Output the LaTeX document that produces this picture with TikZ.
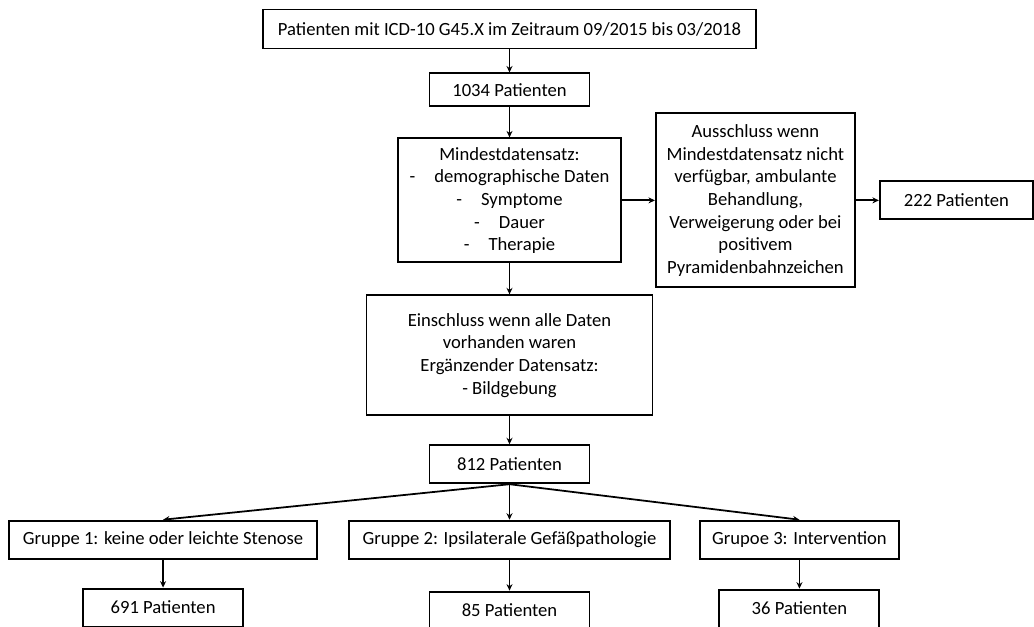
\documentclass[tikz,border=0pt]{standalone}
\usepackage{fontspec}
\setmainfont{Carlito}
\usetikzlibrary{arrows.meta,positioning}

\begin{document}
\begin{tikzpicture}[node distance=6mm,
  box/.style={draw=black,line width=1.1pt,minimum height=7.6mm,inner sep=1mm,
              font=\fontsize{10.6}{12.9}\selectfont,align=center},
  arr/.style={-{Stealth[length=1.3mm,width=1.2mm]},line width=1pt}]
  \useasboundingbox (0,0) rectangle (206.8mm,-125.2mm);
  \clip (0,0) rectangle (206.8mm,-125.2mm);
  \node[box,minimum width=98.6mm,minimum height=7.8mm] (src) at (101.9mm,-5.8mm)
       {Patienten mit ICD-10 G45.X im Zeitraum 09/2015 bis 03/2018};
  \node[box,minimum width=32mm,minimum height=6.6mm,below=4.6mm of src] (all) {1034 Patienten};
  \node[box,minimum width=44.6mm,minimum height=24.8mm,below=6mm of all] (min)
       {Mindestdatensatz:\\-\hspace{3.8mm}demographische Daten\\-\hspace{3.8mm}Symptome\\
        -\hspace{3.8mm}Dauer\\-\hspace{3.8mm}Therapie};
  \node[box,minimum width=39.8mm,minimum height=34.8mm,right=6.6mm of min] (aus)
       {Ausschluss wenn\\Mindestdatensatz nicht\\verfügbar, ambulante\\Behandlung,\\
        Verweigerung oder bei\\positivem\\Pyramidenbahnzeichen};
  \node[box,minimum width=30.6mm,right=4.6mm of aus] (exc) {222 Patienten};
  \node[box,minimum width=57.2mm,minimum height=24mm,below=6.2mm of min] (ein)
       {Einschluss wenn alle Daten\\vorhanden waren\\Ergänzender Datensatz:\\- Bildgebung};
  \node[box,minimum width=32mm,below=5.6mm of ein] (inc) {812 Patienten};
  \node[box,minimum width=64.2mm,below=7.1mm of inc] (g2) {Gruppe 2: Ipsilaterale Gefäßpathologie};
  \node[box,minimum width=61.6mm,left=6mm of g2] (g1) {Gruppe 1: keine oder leichte Stenose};
  \node[box,minimum width=39.8mm,right=5.6mm of g2] (g3) {Grupoe 3: Intervention};
  \node[box,minimum width=32mm,below=5.6mm of g1] (p1) {691 Patienten};
  \node[box,minimum width=32mm,below=6.2mm of g2] (p2) {85 Patienten};
  \node[box,minimum width=32mm,below=5.8mm of g3] (p3) {36 Patienten};
  \draw[arr] (src) -- (all);
  \draw[arr] (all) -- (min);
  \draw[arr] (min) -- (aus);
  \draw[arr] (aus) -- (exc);
  \draw[arr] (min) -- (ein);
  \draw[arr] (ein) -- (inc);
  \draw[arr] (inc.south) -- (g1.north);
  \draw[arr] (inc.south) -- (g2.north);
  \draw[arr] (inc.south) -- (g3.north);
  \draw[arr] (g1) -- (p1);
  \draw[arr] (g2) -- (p2);
  \draw[arr] (g3) -- (p3);
\end{tikzpicture}
\end{document}
